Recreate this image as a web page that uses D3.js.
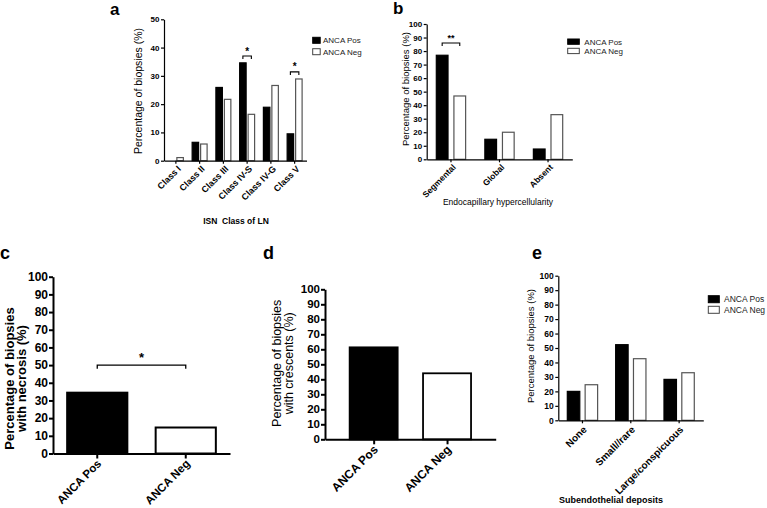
<!DOCTYPE html>
<html>
<head>
<meta charset="utf-8">
<script src="https://cdn.jsdelivr.net/npm/d3@7/dist/d3.min.js"></script>
<style>
  html, body { margin: 0; padding: 0; background: #fff; }
  svg { display: block; }
</style>
</head>
<body>
<script>
// ---------------- DATA ----------------
const classesA = ["Class I", "Class II", "Class III", "Class IV-S", "Class IV-G", "Class V"];
const posA = [0, 6.5, 25.9, 34.6, 18.9, 9.5];
const negA = [1.1, 5.9, 21.7, 16.4, 26.6, 28.9];
const ticksA = [0, 10, 20, 30, 40, 50];
const sigA = [{cat: "Class IV-S", y: 37, label: "*"}, {cat: "Class V", y: 31.4, label: "*"}];

const catsB = ["Segmental", "Global", "Absent"];
const posB = [76.9, 14.8, 7.6];
const negB = [46.8, 20, 33];
const sigB = [{cat: "Segmental", y: 86, label: "**"}];

const groupsC = ["ANCA Pos", "ANCA Neg"];
const necrosis = [34.4, 14.7];
const sigC = {y: 50, leg: 48, label: "*"};

const groupsD = ["ANCA Pos", "ANCA Neg"];
const crescents = [61.3, 44];

const catsE = ["None", "Small//rare", "Large/conspicuous"];
const posE = [20, 52.3, 28.3];
const negE = [24.6, 42.6, 32.9];

const ticks100 = [0, 10, 20, 30, 40, 50, 60, 70, 80, 90, 100];
const seriesNames = ["ANCA Pos", "ANCA Neg"];

// ---------------- SETUP ----------------
const FONT = "'Liberation Sans', Arial, Helvetica, sans-serif";
const svg = d3.select("body").append("svg").attr("width", 767).attr("height", 508)
  .attr("font-family", FONT);

function styleAxis(g, sw, fs, fw) {
  g.selectAll("path.domain, .tick line").attr("stroke", "#000").attr("stroke-width", sw);
  g.selectAll("text").attr("font-family", FONT).attr("font-size", fs).attr("font-weight", fw).attr("fill", "#000");
}

function txt(x, y, s, o = {}) {
  const t = svg.append("text").attr("x", 0).attr("y", 0)
    .attr("transform", `translate(${x},${y})` + (o.rot ? ` rotate(${o.rot})` : ""))
    .attr("font-size", o.fs || 10).attr("font-weight", o.fw || "normal")
    .attr("text-anchor", o.anchor || "middle").attr("fill", o.fill || "#000")
    .style("white-space", "pre")
    .text(s);
  if (o.dy) t.attr("dy", o.dy);
  return t;
}

function legend(x, y1, y2, w, h, tx, fs) {
  [y1, y2].forEach((yy, i) => {
    svg.append("rect").attr("x", x).attr("y", yy).attr("width", w).attr("height", h)
      .attr("fill", i === 0 ? "#000" : "#fff").attr("stroke", i === 0 ? "#000" : "#444").attr("stroke-width", 1);
    txt(tx, yy + h / 2, seriesNames[i], {fs: fs, anchor: "start", dy: "0.36em", fill: "#222"});
  });
}

function grouped(cfg) {
  const y = d3.scaleLinear().domain([0, cfg.yMax]).range([cfg.yBase, cfg.yTop]);
  const x = d3.scaleBand().domain(cfg.cats).range([cfg.x0, cfg.x1]).paddingInner(cfg.pad).paddingOuter(cfg.pad / 2);
  const xs = d3.scaleBand().domain(["pos", "neg"]).range([0, x.bandwidth()]).paddingInner(cfg.subPad);
  const g = svg.append("g");
  cfg.cats.forEach((c, i) => {
    [["pos", cfg.pos[i]], ["neg", cfg.neg[i]]].forEach(([k, v]) => {
      if (v <= 0) return;
      g.append("rect").attr("x", x(c) + xs(k)).attr("y", y(v))
        .attr("width", xs.bandwidth()).attr("height", y(0) - y(v))
        .attr("fill", k === "pos" ? "#000" : "#fff")
        .attr("stroke", k === "pos" ? "#000" : "#555").attr("stroke-width", 1.2);
    });
  });
  const ya = svg.append("g").attr("transform", `translate(${cfg.x0},0)`)
    .call(d3.axisLeft(y).tickValues(cfg.yTicks).tickSize(3).tickPadding(1.5).tickSizeOuter(0));
  styleAxis(ya, 1.2, cfg.tickFs, "bold");
  const xa = svg.append("g").attr("transform", `translate(0,${cfg.yBase})`)
    .call(d3.axisBottom(x).tickSize(3).tickSizeOuter(0).tickFormat(""));
  styleAxis(xa, 1.2, cfg.tickFs, "bold");
  cfg.cats.forEach(c => {
    const cx = x(c) + x.bandwidth() / 2;
    txt(cx + cfg.lx, cfg.yBase + cfg.ly, c, {fs: cfg.labFs, fw: "bold", anchor: "end", rot: -45, dy: "0.35em"});
  });
  (cfg.sig || []).forEach(s => {
    const xa1 = x(s.cat) + xs("pos") + xs.bandwidth() / 2;
    const xa2 = x(s.cat) + xs("neg") + xs.bandwidth() / 2;
    const yy = y(s.y);
    svg.append("path").attr("d", `M${xa1},${yy + 3}V${yy}H${xa2}V${yy + 3}`)
      .attr("fill", "none").attr("stroke", "#000").attr("stroke-width", 1.1);
    txt((xa1 + xa2) / 2, yy - 1.5, s.label, {fs: cfg.sigFs, fw: "bold"});
  });
  return {x, y};
}

// ---------------- PANEL a ----------------
txt(110, 15, "a", {fs: 17, fw: "bold", anchor: "start"});
grouped({cats: classesA, pos: posA, neg: negA, yMax: 50, yTicks: ticksA,
  x0: 164, x1: 306.5, yBase: 160.7, yTop: 19.3, pad: 0.37, subPad: 0.235,
  tickFs: 8, labFs: 9, lx: 3.5, ly: 6.5, sig: sigA, sigFs: 10});
txt(142, 91, "Percentage of biopsies (%)", {fs: 10.5, rot: -90});
txt(236, 224, "ISN  Class of LN", {fs: 8.5, fw: "bold"});
legend(312.7, 37.3, 48.7, 7.5, 6, 323, 8);

// ---------------- PANEL b ----------------
txt(393, 14, "b", {fs: 17, fw: "bold", anchor: "start"});
grouped({cats: catsB, pos: posB, neg: negB, yMax: 100, yTicks: ticks100,
  x0: 426.7, x1: 572.3, yBase: 159.3, yTop: 24, pad: 0.396, subPad: 0.335,
  tickFs: 8, labFs: 8.5, lx: 3.3, ly: 6.4, sig: sigB, sigFs: 9});
txt(408.5, 89, "Percentage of biopsies (%)", {fs: 9.5, rot: -90});
txt(498, 205, "Endocapillary hypercellularity", {fs: 8.5});
legend(567.7, 39, 48.3, 11.6, 5.3, 584.3, 8);

// ---------------- PANEL c ----------------
txt(0, 259, "c", {fs: 18, fw: "bold", anchor: "start"});
(function () {
  const y = d3.scaleLinear().domain([0, 100]).range([453.5, 276.7]);
  const x = d3.scaleBand().domain(groupsC).range([53, 230]).paddingInner(0.32).paddingOuter(0.16);
  groupsC.forEach((c, i) => {
    svg.append("rect").attr("x", x(c)).attr("y", y(necrosis[i])).attr("width", x.bandwidth())
      .attr("height", y(0) - y(necrosis[i])).attr("fill", i === 0 ? "#000" : "#fff")
      .attr("stroke", "#000").attr("stroke-width", 2);
  });
  const ya = svg.append("g").attr("transform", "translate(53,0)")
    .call(d3.axisLeft(y).tickValues(ticks100).tickSize(4).tickPadding(1).tickSizeOuter(0));
  styleAxis(ya, 2, 12, "bold");
  const xa = svg.append("g").attr("transform", `translate(0,${y(0)})`)
    .call(d3.axisBottom(x).tickSize(5).tickSizeOuter(0).tickFormat(""));
  styleAxis(xa, 2, 12, "bold");
  groupsC.forEach(c => {
    const cx = x(c) + x.bandwidth() / 2;
    txt(cx + 2, y(0) + 8, c, {fs: 11.5, fw: "bold", anchor: "end", rot: -45, dy: "0.35em"});
  });
  const x1 = x(groupsC[0]) + x.bandwidth() / 2, x2 = x(groupsC[1]) + x.bandwidth() / 2;
  svg.append("path").attr("d", `M${x1},${y(sigC.leg)}V${y(sigC.y)}H${x2}V${y(sigC.leg)}`)
    .attr("fill", "none").attr("stroke", "#000").attr("stroke-width", 1.3);
  txt((x1 + x2) / 2, y(sigC.y) - 3, sigC.label, {fs: 13, fw: "bold"});
  txt(13.5, 378.5, "Percentage of biopsies", {fs: 13, fw: "bold", rot: -90});
  txt(25.5, 378.5, "with necrosis (%)", {fs: 13, fw: "bold", rot: -90});
})();

// ---------------- PANEL d ----------------
txt(263, 259, "d", {fs: 18, fw: "bold", anchor: "start"});
(function () {
  const y = d3.scaleLinear().domain([0, 100]).range([439.3, 289.3]);
  const x = d3.scalePoint().domain(groupsD).range([325, 495.7]).padding(0.663);
  const bw = 48;
  groupsD.forEach((c, i) => {
    svg.append("rect").attr("x", x(c) - bw / 2).attr("y", y(crescents[i])).attr("width", bw)
      .attr("height", y(0) - y(crescents[i])).attr("fill", i === 0 ? "#000" : "#fff")
      .attr("stroke", "#000").attr("stroke-width", 1.8);
  });
  const ya = svg.append("g").attr("transform", "translate(325,0)")
    .call(d3.axisLeft(y).tickValues(ticks100).tickSize(4).tickPadding(1).tickSizeOuter(0));
  styleAxis(ya, 2, 11.5, "bold");
  const xa = svg.append("g").attr("transform", `translate(0,${y(0)})`)
    .call(d3.axisBottom(x).tickSize(5).tickSizeOuter(0).tickFormat(""));
  styleAxis(xa, 2, 12, "bold");
  groupsD.forEach(c => {
    txt(x(c) + 2, y(0) + 8, c, {fs: 12, fw: "bold", anchor: "end", rot: -45, dy: "0.35em"});
  });
  txt(280.5, 363.3, "Percentage of biopsies", {fs: 12.5, rot: -90});
  txt(292.5, 363.3, "with crescents (%)", {fs: 12.5, rot: -90});
})();

// ---------------- PANEL e ----------------
txt(532, 259, "e", {fs: 18, fw: "bold", anchor: "start"});
grouped({cats: catsE, pos: posE, neg: negE, yMax: 100, yTicks: ticks100,
  x0: 558.3, x1: 703.3, yBase: 420.3, yTop: 275.7, pad: 0.373, subPad: 0.3,
  tickFs: 8.5, labFs: 10, lx: 2.4, ly: 7.5, sig: [], sigFs: 9});
txt(533.5, 346, "Percentage of biopsies (%)", {fs: 9.5, rot: -90});
txt(611, 503, "Subendothelial deposits", {fs: 9, fw: "bold"});
legend(708.3, 295.7, 306.3, 11, 7, 724, 8.5);
</script>
</body>
</html>
